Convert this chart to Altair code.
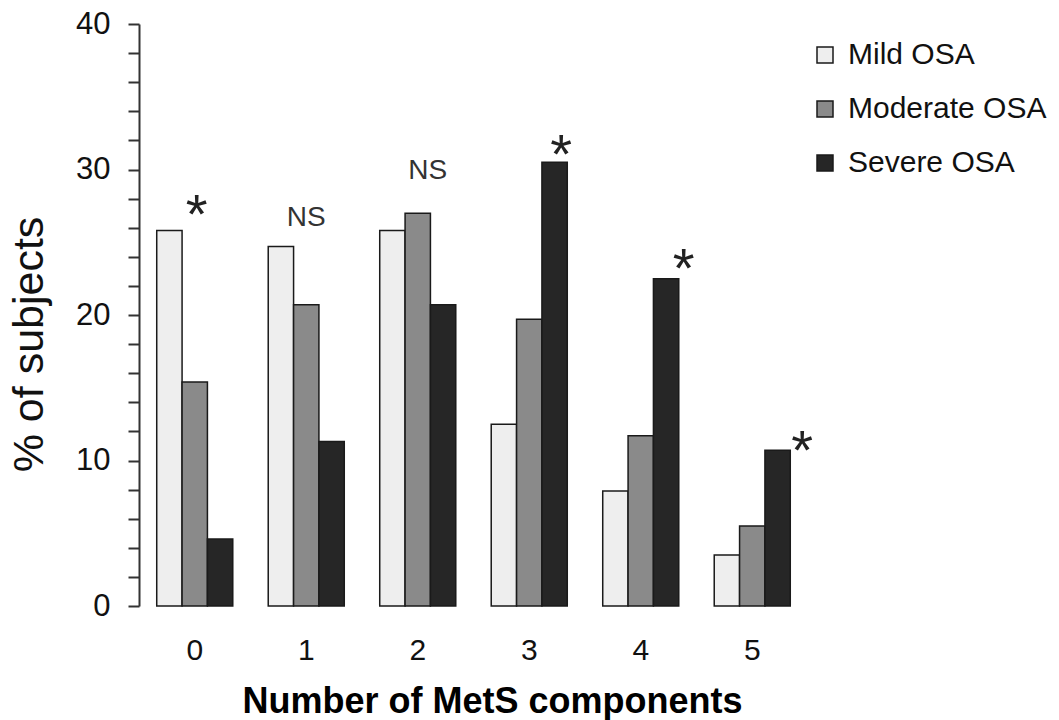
import altair as alt
import pandas as pd

groups = ["0", "1", "2", "3", "4", "5"]
series = ["Mild OSA", "Moderate OSA", "Severe OSA"]
mild = [25.8, 24.7, 25.8, 12.5, 7.9, 3.5]
moderate = [15.4, 20.7, 27.0, 19.7, 11.7, 5.5]
severe = [4.6, 11.3, 20.7, 30.5, 22.5, 10.7]

ann_groups = ["0", "1", "2", "3", "4", "5"]
ann_text = ["*", "NS", "NS", "*", "*", "*"]
ann_level = [26.8, 26.7, 29.9, 30.9, 23.1, 10.6]

colors = ["#eeeeee", "#8a8a8a", "#262626"]
FONT = "Liberation Sans"

rows = []
for i, g in enumerate(groups):
    for s, vals in zip(series, [mild, moderate, severe]):
        rows.append({"group": g, "series": s, "value": vals[i]})
df = pd.DataFrame(rows)

x_scale = alt.Scale(paddingInner=0.318, paddingOuter=0.159)
x_axis = alt.Axis(
    title="Number of MetS components",
    domain=False,
    ticks=False,
    labelAngle=0,
    labelFont=FONT,
    labelFontSize=30,
    labelColor="#111111",
    labelPadding=29,
    titleFont=FONT,
    titleFontSize=36,
    titleFontWeight="bold",
    titleColor="#000000",
    titleX=353,
    titleY=106,
    titleAlign="center",
    titleBaseline="alphabetic",
)

y_scale = alt.Scale(domain=[0, 40], nice=False, zero=True)
y_axis = alt.Axis(
    title="% of subjects",
    values=list(range(0, 41, 2)),
    labelExpr="datum.value % 10 == 0 ? datum.label : ''",
    labelOverlap=False,
    grid=False,
    domainColor="#333333",
    domainWidth=2,
    tickColor="#333333",
    tickWidth=2,
    tickSize=11,
    labelFont=FONT,
    labelFontSize=31,
    labelColor="#111111",
    labelPadding=18,
    titleFont=FONT,
    titleFontSize=43,
    titleFontWeight="normal",
    titleColor="#111111",
    titleX=-110,
    titleY=320,
    titleAlign="center",
    titleBaseline="middle",
)

bars = alt.Chart(df).mark_bar(stroke="#1a1a1a", strokeWidth=1.5).encode(
    x=alt.X("group:N", sort=groups, scale=x_scale, axis=x_axis),
    xOffset=alt.XOffset("series:N", sort=series),
    y=alt.Y("value:Q", scale=y_scale, axis=y_axis),
    fill=alt.Fill(
        "series:N",
        sort=series,
        scale=alt.Scale(domain=series, range=colors),
        legend=alt.Legend(
            title=None,
            orient="none",
            legendX=671,
            legendY=16,
            padding=0,
            symbolType="square",
            symbolSize=256,
            symbolStrokeColor="#1a1a1a",
            symbolStrokeWidth=1.5,
            labelFont=FONT,
            labelFontSize=30,
            labelColor="#111111",
            labelOffset=8,
            labelLimit=400,
            rowPadding=24,
        ),
    ),
)

ann_dx = [2, 0, 10, 32, 43, 50]
layers = [bars]
for g, t, lv, dx in zip(ann_groups, ann_text, ann_level, ann_dx):
    adf = pd.DataFrame({"group": [g], "label": [t], "value": [lv]})
    is_star = t == "*"
    layers.append(
        alt.Chart(adf).mark_text(
            font=FONT,
            fontSize=56 if is_star else 28,
            color="#222222" if is_star else "#333333",
            baseline="middle",
            align="center",
            dx=dx,
        ).encode(
            x=alt.X("group:N", sort=groups, scale=x_scale, axis=x_axis),
            y=alt.Y("value:Q", scale=y_scale, axis=y_axis),
            text="label:N",
        )
    )

chart = (
    alt.layer(*layers)
    .properties(
        width=669,
        height=582,
        padding={"left": 139, "top": 24, "right": 251, "bottom": 114},
        autosize=alt.AutoSizeParams(type="none"),
        background="white",
    )
    .configure_view(stroke=None)
    .configure_axis(labelOverlap=False)
)

chart.save("out.html", embed_options={"renderer": "svg", "actions": False})
